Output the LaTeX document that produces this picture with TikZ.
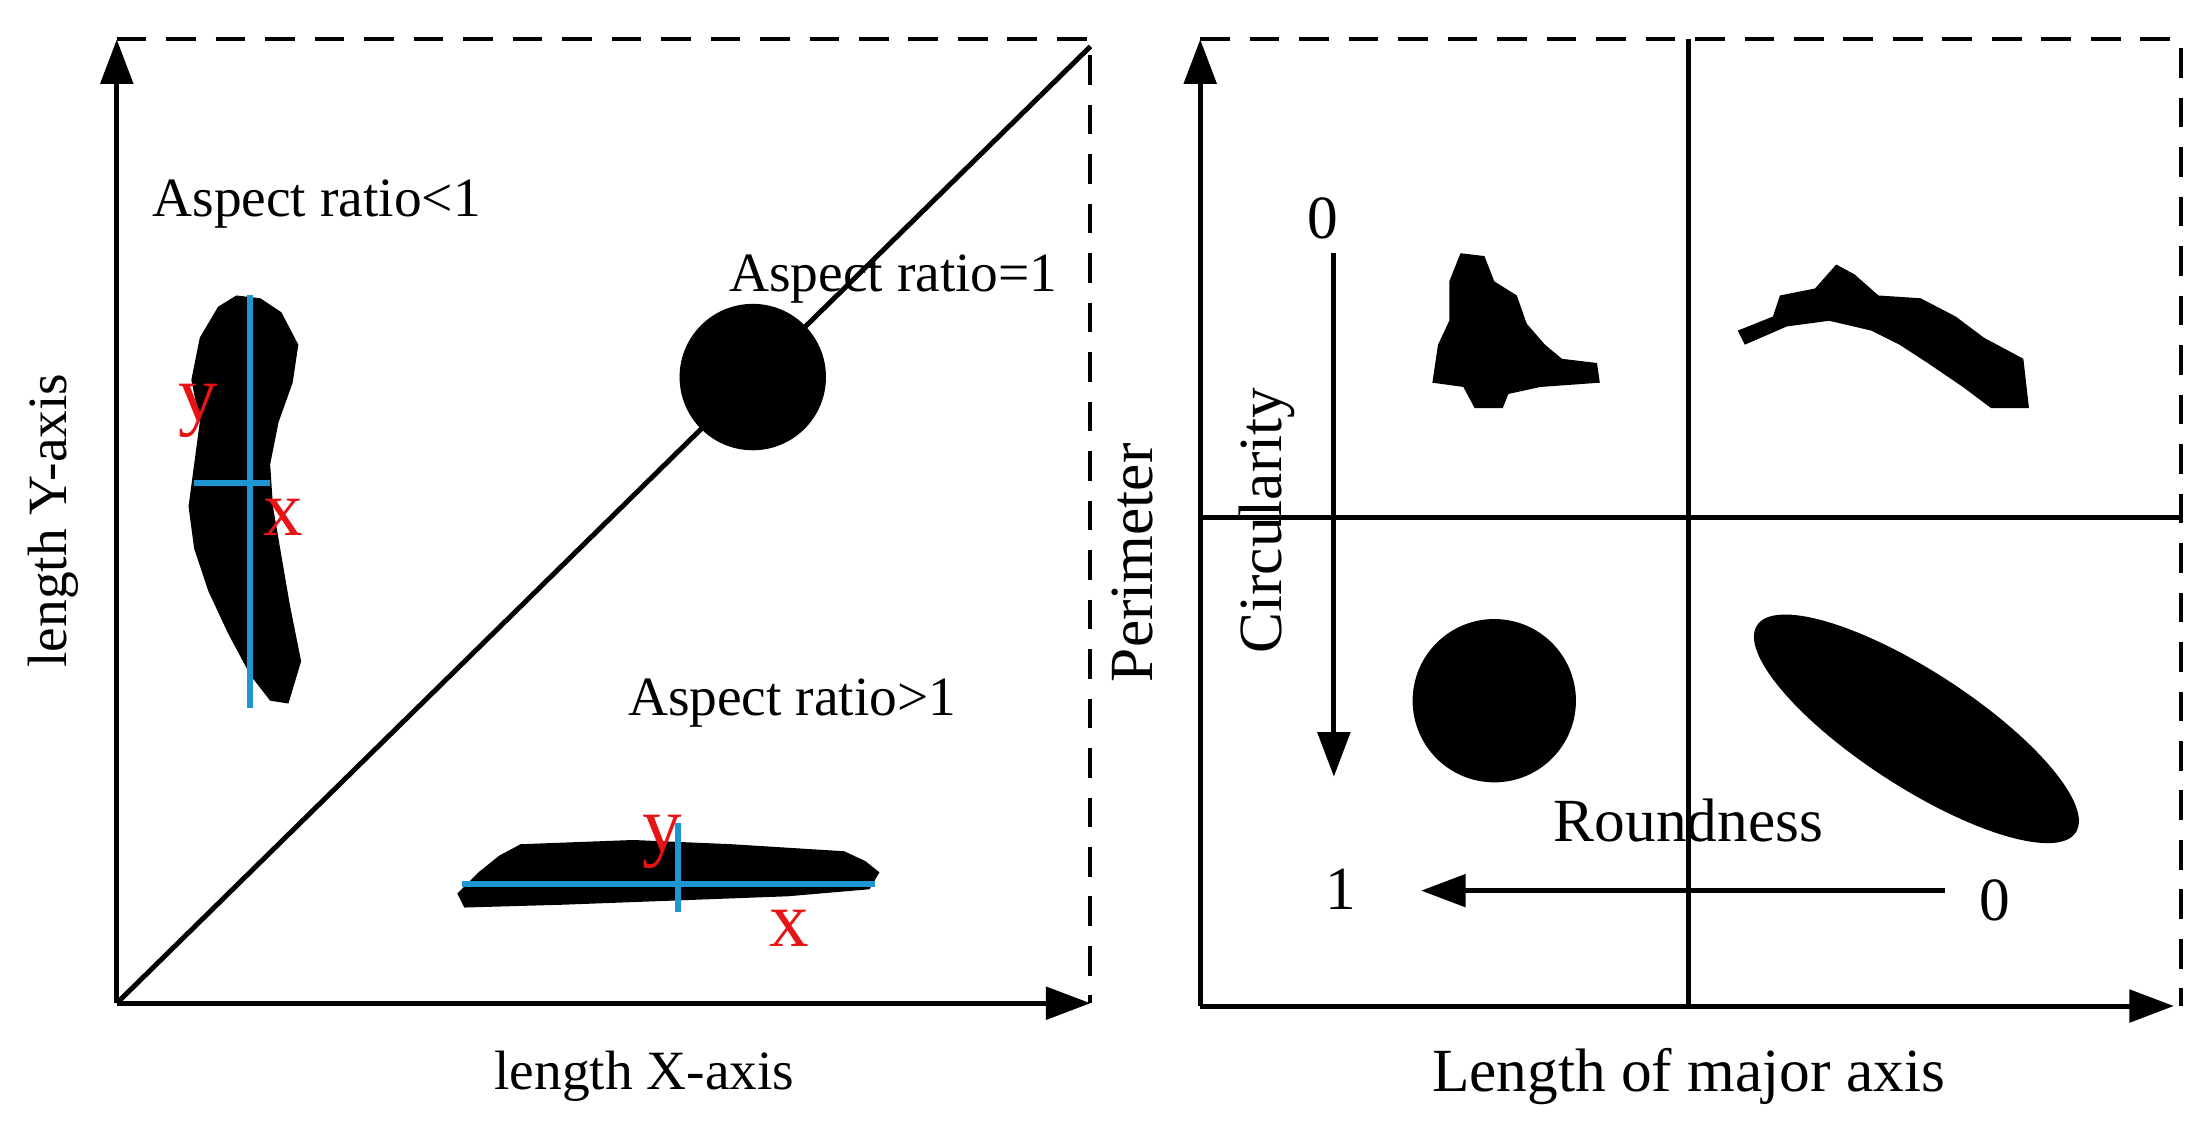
\documentclass[tikz,border=0pt]{standalone}
\usepackage{fontspec}
\setmainfont{Liberation Serif}
\usetikzlibrary{shapes.geometric,arrows.meta}
\begin{document}
\begin{tikzpicture}[x=0.01cm,y=-0.01cm,
  ax/.style={line width=1pt,-{Triangle[length=9pt,width=6.5pt]}},
  dsh/.style={line width=0.8pt,dash pattern=on 6pt off 4pt},
  ln/.style={line width=1pt},
  lbl/.style={font=\fontsize{11.2}{13}\selectfont,inner sep=0pt},
  lbr/.style={font=\fontsize{12.4}{14}\selectfont,inner sep=0pt},
  red/.style={font=\fontsize{16}{18}\selectfont,text={rgb,255:red,230;green,20;blue,20},inner sep=0pt},
  bl/.style={line width=1.2pt,draw={rgb,255:red,30;green,150;blue,210}}]
\useasboundingbox (0,0) rectangle (1560,798);
% left panel
\coordinate (O1) at (83,713); \coordinate (Y1) at (83,28); \coordinate (X1) at (775,713);
\coordinate (TR1) at (775,28); \coordinate (D1) at (775,33);
\draw[ax] (O1) -- (Y1);
\draw[ax] (O1) -- (X1);
\draw[dsh] (Y1) -- (TR1) -- (X1);
\draw[ln] (O1) -- (D1);
\node[circle,fill=black,minimum size=1.04cm,inner sep=0] (c1) at (535,268) {};
\node[lbl] (t1) at (225,145) {Aspect ratio<1};
\node[lbl] (t2) at (635,198) {Aspect ratio=1};
\node[lbl] (t3) at (563,500) {Aspect ratio>1};
\node[lbl,rotate=90] (ly) at (38,370) {length Y-axis};
\node[lbl] (lx) at (458,765) {length X-axis};
\fill[black] (168,210) -- (185,212) -- (200,222) -- (212,245) -- (208,272) -- (198,300) -- (192,330) -- (194,360) -- (200,395) -- (206,430) -- (214,470) -- (205,500) -- (192,498) -- (178,480) -- (162,450) -- (148,420) -- (138,390) -- (134,360) -- (138,330) -- (142,300) -- (136,270) -- (142,240) -- (155,218) -- cycle;
\coordinate (va) at (178,210); \coordinate (vb) at (178,503);
\coordinate (ha) at (138,343); \coordinate (hb) at (192,343);
\draw[bl] (va) -- (vb); \draw[bl] (ha) -- (hb);
\node[red] (ry1) at (141,292) {y};
\node[red] (rx1) at (201,368) {x};
\fill[black] (370,600) -- (450,597) -- (520,600) -- (600,605) -- (615,612) -- (625,620) -- (618,632) -- (560,637) -- (480,640) -- (400,643) -- (330,645) -- (325,635) -- (340,620) -- (355,608) -- cycle;
\coordinate (hc) at (328,628); \coordinate (hd) at (622,628);
\coordinate (vc) at (482,585); \coordinate (vd) at (482,648);
\draw[bl] (hc) -- (hd); \draw[bl] (vc) -- (vd);
\node[red] (ry2) at (471,598) {y};
\node[red] (rx2) at (561,660) {x};
% right panel
\coordinate (O2) at (853,715); \coordinate (Y2) at (853,28); \coordinate (X2) at (1545,715);
\coordinate (TR2) at (1550,28); \coordinate (BR2) at (1550,715);
\draw[ax] (O2) -- (Y2);
\draw[ax] (O2) -- (X2);
\draw[dsh] (Y2) -- (TR2) -- (BR2);
\coordinate (vt) at (1200,28); \coordinate (vbm) at (1200,715);
\coordinate (hl) at (853,368); \coordinate (hr) at (1550,368);
\draw[ln] (vt) -- (vbm); \draw[ln] (hl) -- (hr);
\coordinate (a1) at (948,180); \coordinate (a2) at (948,552);
\draw[ax] (a1) -- (a2);
\coordinate (b1) at (1382,633); \coordinate (b2) at (1010,633);
\draw[ax] (b1) -- (b2);
\node[lbr] (z1) at (940,155) {0};
\node[lbr,rotate=90] (circ) at (900,370) {Circularity};
\node[lbr] (one) at (953,632) {1};
\node[lbr] (z2) at (1418,640) {0};
\node[lbr] (rd) at (1200,583) {Roundness};
\node[lbr,rotate=90] (per) at (805,400) {Perimeter};
\node[lbr] (lm) at (1200,765) {Length of major axis};
\node[circle,fill=black,minimum size=1.16cm,inner sep=0] (c2) at (1062,498) {};
\node[ellipse,fill=black,minimum width=2.7cm,minimum height=0.82cm,inner sep=0,rotate=-33] (el) at (1362,518) {};
\fill[black] (1038,180) -- (1055,182) -- (1062,200) -- (1078,210) -- (1085,230) -- (1098,245) -- (1110,255) -- (1135,258) -- (1137,272) -- (1095,275) -- (1072,280) -- (1068,290) -- (1048,290) -- (1040,275) -- (1018,272) -- (1022,245) -- (1030,228) -- (1030,200) -- cycle;
\fill[black] (1235,235) -- (1260,225) -- (1265,210) -- (1290,205) -- (1305,188) -- (1318,195) -- (1335,210) -- (1365,212) -- (1390,225) -- (1410,240) -- (1438,255) -- (1442,290) -- (1415,290) -- (1395,275) -- (1370,258) -- (1350,245) -- (1330,235) -- (1300,228) -- (1270,232) -- (1240,245) -- cycle;
\end{tikzpicture}
\end{document}
